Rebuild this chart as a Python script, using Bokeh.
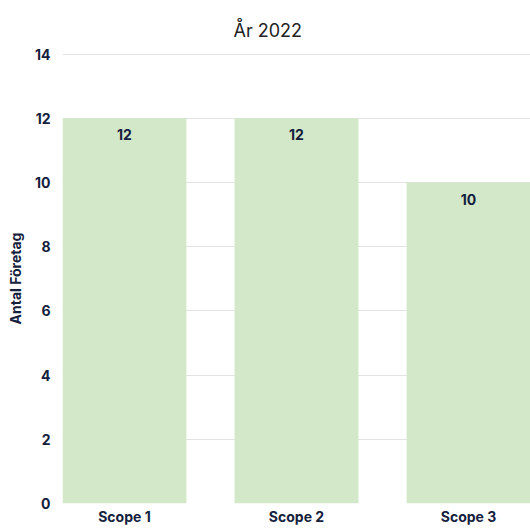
from bokeh.plotting import figure
from bokeh.models import ColumnDataSource, FixedTicker, Range1d, Title
from bokeh.core.properties import value
from bokeh.embed import file_html
from bokeh.resources import INLINE

categories = ["Scope 1", "Scope 2", "Scope 3"]
counts = [12, 12, 10]
y_ticks = [0, 2, 4, 6, 8, 10, 12, 14]

FONT = "Inter"
INK = "#14213d"
BAR = "#d3e7c9"

positions = list(range(len(categories)))
source = ColumnDataSource(dict(
    x=positions,
    top=counts,
    label=[str(c) for c in counts],
))

p = figure(
    width=530, height=528,
    x_range=Range1d(-0.36, 2.36), y_range=Range1d(0, 14.02),
    output_backend="svg", toolbar_location=None,
    min_border_left=62, min_border_right=0, min_border_top=53, min_border_bottom=25,
    outline_line_color=None,
)

# heading sits left-aligned, pushed right so it is centred over the canvas
p.title = Title(text="År 2022", align="left", offset=171, standoff=25,
                text_font=FONT, text_font_size="18px", text_font_style="normal",
                text_color="#222222")

p.vbar(x="x", top="top", width=0.72, bottom=0, source=source,
       fill_color=BAR, line_color=None)

p.text(x="x", y="top", text="label", source=source,
       text_font=value(FONT), text_font_size="14px", text_font_style="bold",
       text_color=INK, text_align="center", text_baseline="top", y_offset=11)

p.xaxis.ticker = FixedTicker(ticks=positions)
p.xaxis.major_label_overrides = {i: c for i, c in enumerate(categories)}
p.yaxis.ticker = FixedTicker(ticks=y_ticks)
p.yaxis.axis_label = "Antal Företag"

for ax in (p.xaxis, p.yaxis):
    ax.axis_line_color = None
    ax.major_tick_line_color = None
    ax.minor_tick_line_color = None
    ax.major_tick_out = 0
    ax.minor_tick_out = 0
    ax.major_label_text_font = FONT
    ax.major_label_text_font_size = "14px"
    ax.major_label_text_font_style = "bold"
    ax.major_label_text_color = INK
    ax.axis_label_text_font = FONT
    ax.axis_label_text_font_size = "14px"
    ax.axis_label_text_font_style = "bold"
    ax.axis_label_text_color = INK

p.yaxis.major_label_standoff = 12
p.yaxis.axis_label_standoff = 8
p.xaxis.major_label_standoff = 4

p.xgrid.grid_line_color = None
p.ygrid.grid_line_color = "#e2e2e2"
p.ygrid.grid_line_width = 1

open("out.html", "w").write(file_html(p, INLINE))
